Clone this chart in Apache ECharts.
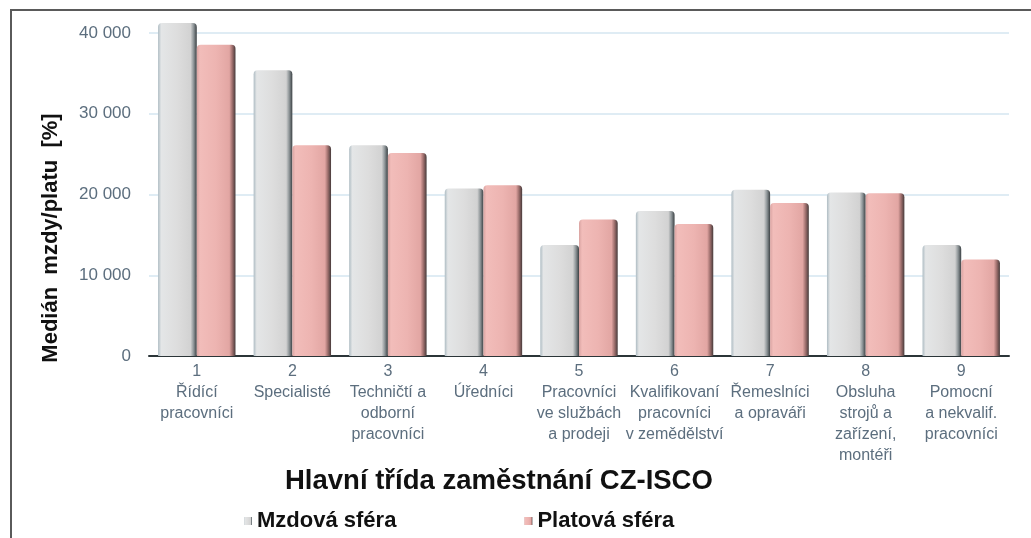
<!DOCTYPE html>
<html>
<head>
<meta charset="utf-8">
<script src="https://cdn.jsdelivr.net/npm/echarts@6/dist/echarts.min.js"></script>
<style>
  html, body { margin: 0; padding: 0; background: #fff; }
  #chart-container { width: 1031px; height: 538px; }
</style>
</head>
<body>
<div id="chart-container"></div>
<script>
// Data
const kategorie = [
  '1\nŘídící\npracovníci',
  '2\nSpecialisté',
  '3\nTechničtí a\nodborní\npracovníci',
  '4\nÚředníci',
  '5\nPracovníci\nve službách\na prodeji',
  '6\nKvalifikovaní\npracovníci\nv zemědělství',
  '7\nŘemeslníci\na opraváři',
  '8\nObsluha\nstrojů a\nzařízení,\nmontéři',
  '9\nPomocní\na nekvalif.\npracovníci'
];
const mzdovaSfera = [41250, 35400, 26100, 20750, 13750, 17950, 20600, 20250, 13750];
const platovaSfera = [38550, 26100, 25150, 21150, 16900, 16350, 18950, 20150, 11950];
const nazvySerii = ['Mzdová sféra', 'Platová sféra'];

let myChart = echarts.init(document.getElementById('chart-container'), null, {
  renderer: 'canvas'
});

// Gradienty pro "3D" vzhled sloupců
const sedy = new echarts.graphic.LinearGradient(0, 0, 1, 0, [
  { offset: 0, color: '#aebcc3' },
  { offset: 0.08, color: '#e4e6e7' },
  { offset: 0.5, color: '#dddddd' },
  { offset: 0.84, color: '#d2d2d2' },
  { offset: 0.92, color: '#8c9396' },
  { offset: 1, color: '#3b4144' }
]);
const ruzovy = new echarts.graphic.LinearGradient(0, 0, 1, 0, [
  { offset: 0, color: '#d9a3a1' },
  { offset: 0.08, color: '#f2bdba' },
  { offset: 0.5, color: '#edb4b1' },
  { offset: 0.84, color: '#e2a6a3' },
  { offset: 0.92, color: '#9b6d6b' },
  { offset: 1, color: '#463a3a' }
]);

const pismo = 'Liberation Sans, Arial, sans-serif';
const popisek = {
  fontFamily: pismo,
  color: '#5c6e7e'
};

const opciones = {
  animation: false,
  title: {
    text: 'Hlavní třída zaměstnání CZ-ISCO',
    left: 280,
    top: 462,
    textStyle: {
      fontFamily: pismo,
      fontSize: 27.5,
      fontWeight: 'bold',
      color: '#111'
    }
  },
  legend: {
    data: nazvySerii,
    left: 244,
    top: 510,
    padding: 0,
    itemWidth: 8,
    itemHeight: 8,
    itemGap: 128,
    icon: 'rect',
    textStyle: {
      fontFamily: pismo,
      fontSize: 22,
      fontWeight: 'bold',
      color: '#111'
    }
  },
  graphic: [
    {
      type: 'rect',
      shape: { x: 11, y: 10, width: 1040, height: 560 },
      style: { fill: 'none', stroke: '#5a5a5a', lineWidth: 2 },
      silent: true
    },
    {
      type: 'text',
      x: 51,
      y: 238,
      rotation: Math.PI / 2,
      style: {
        text: 'Medián  mzdy/platu  [%]',
        fontFamily: pismo,
        fontSize: 22,
        fontWeight: 'bold',
        fill: '#111',
        align: 'center',
        verticalAlign: 'middle'
      }
    }
  ],
  grid: {
    left: 149,
    right: 22,
    top: 33,
    bottom: 182
  },
  xAxis: {
    type: 'category',
    data: kategorie,
    axisLine: { lineStyle: { color: '#2b3538', width: 2 } },
    axisTick: { show: false },
    axisLabel: Object.assign({}, popisek, {
      fontSize: 16,
      lineHeight: 21,
      margin: 5,
      interval: 0
    })
  },
  yAxis: {
    type: 'value',
    min: 0,
    max: 40000,
    interval: 10000,
    axisLine: { show: false },
    axisTick: { show: false },
    splitLine: { lineStyle: { color: '#d5e6f1', width: 1.5 } },
    axisLabel: Object.assign({}, popisek, {
      fontSize: 17,
      margin: 18,
      formatter: v => v === 0 ? '0' : String(v).replace(/\B(?=(\d{3})+(?!\d))/g, ' ')
    })
  },
  series: [
    {
      name: nazvySerii[0],
      type: 'bar',
      data: mzdovaSfera,
      clip: false,
      barGap: '0%',
      barCategoryGap: '19%',
      itemStyle: { color: sedy, borderRadius: [4, 4, 0, 0] }
    },
    {
      name: nazvySerii[1],
      type: 'bar',
      data: platovaSfera,
      clip: false,
      itemStyle: { color: ruzovy, borderRadius: [4, 4, 0, 0] }
    }
  ]
};

myChart.setOption(opciones);
window.addEventListener('resize', myChart.resize);
</script>
</body>
</html>
